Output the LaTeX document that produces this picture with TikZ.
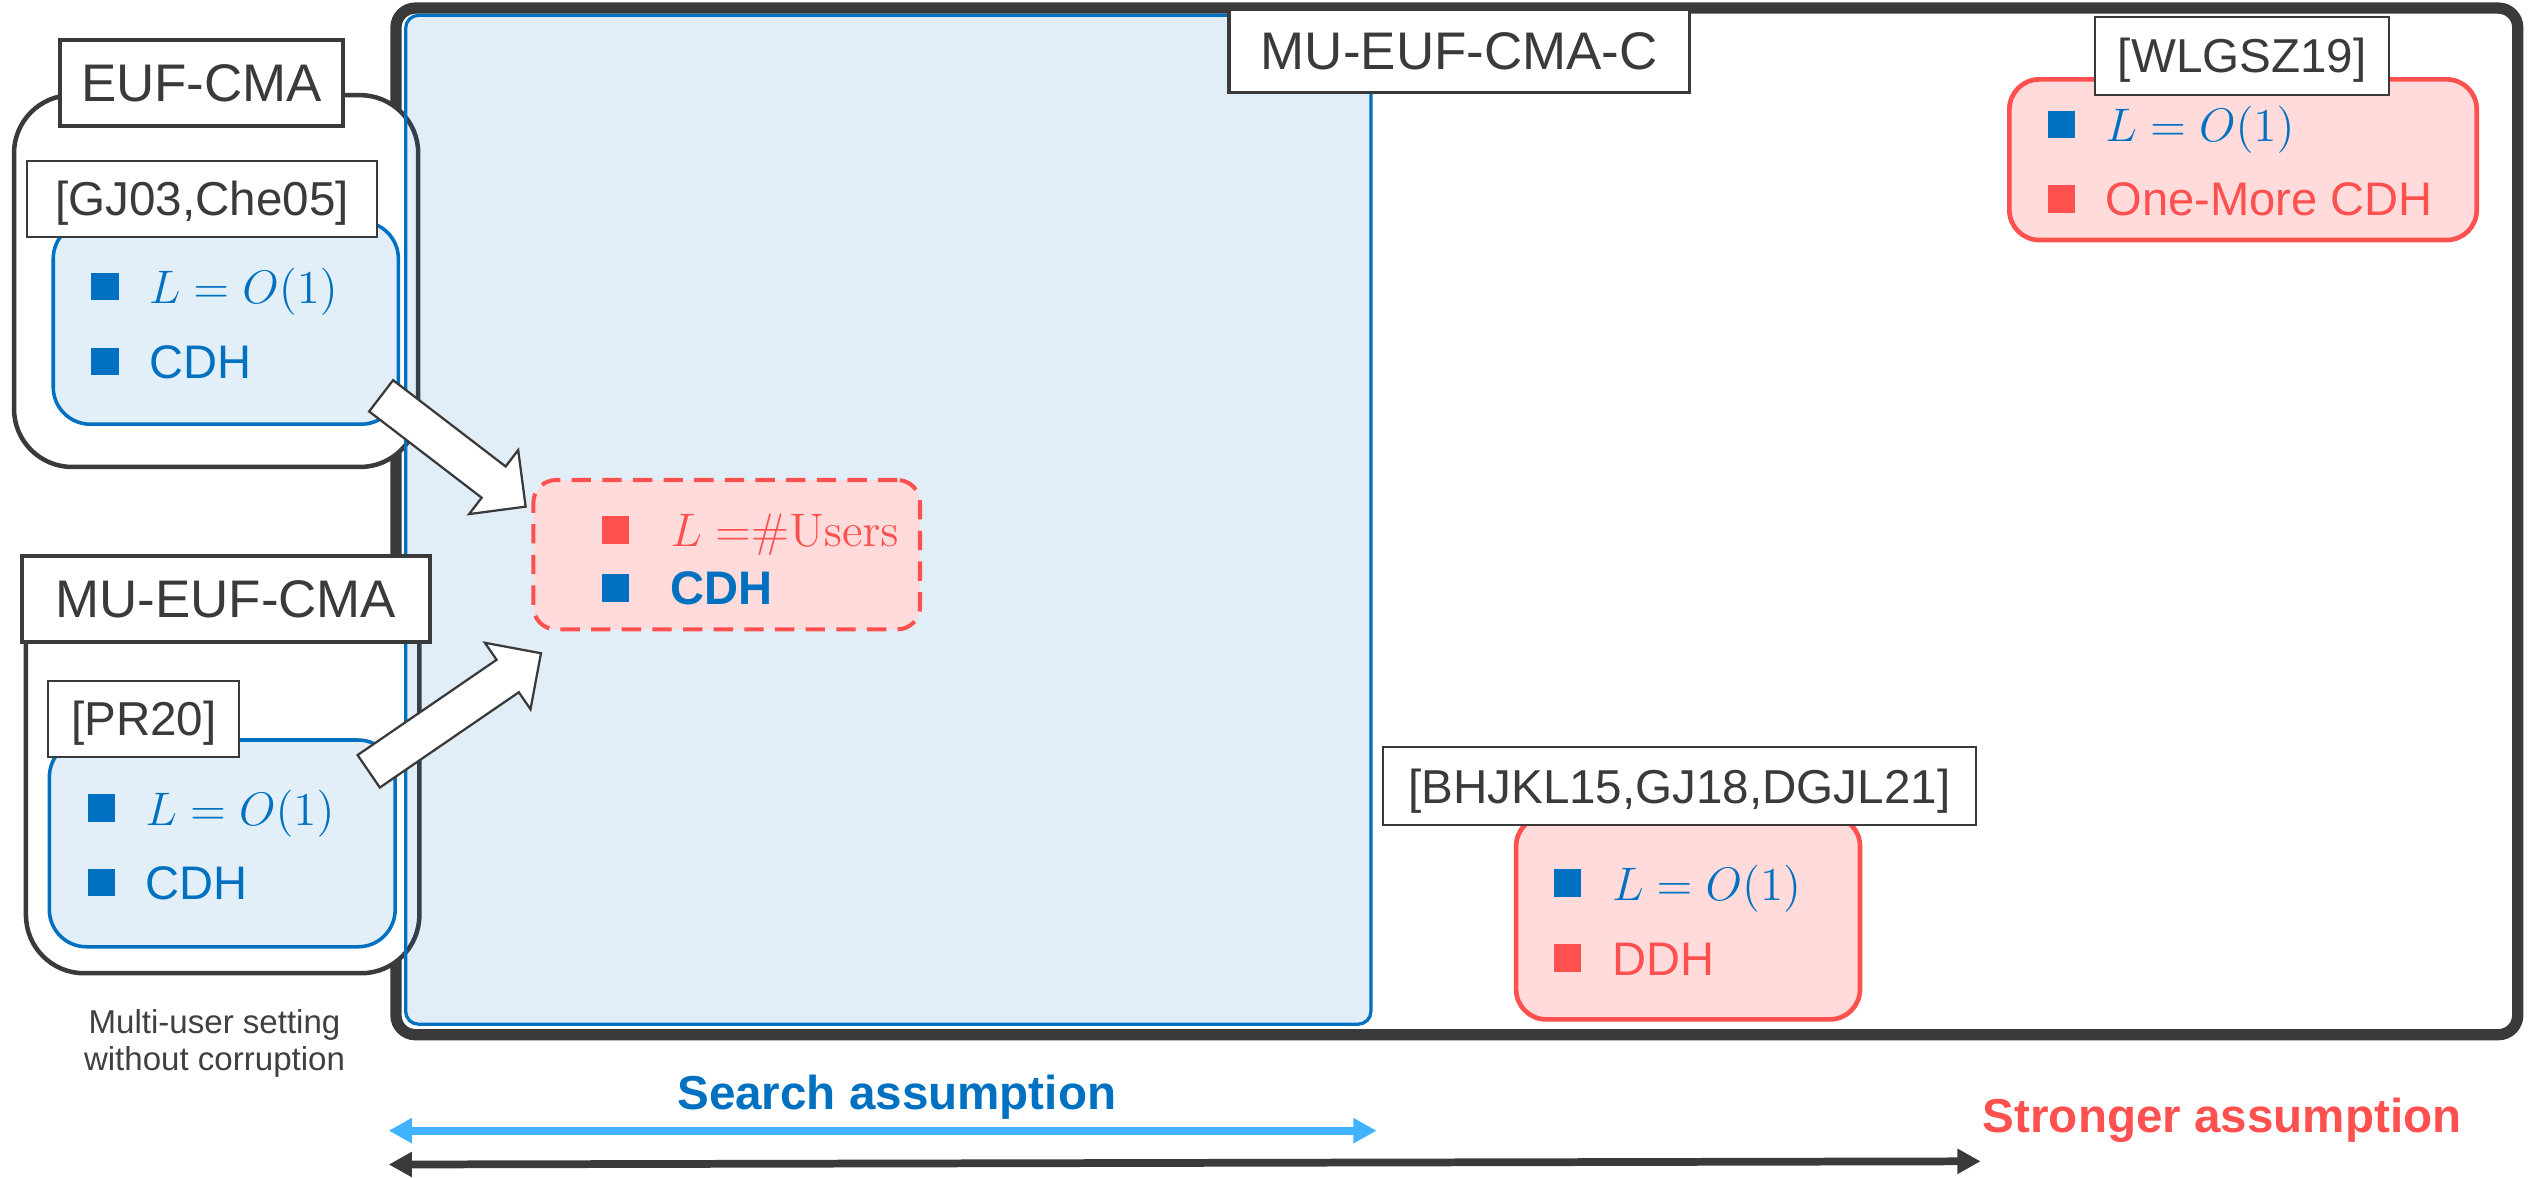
\RequirePackage{fix-cm}
\documentclass[tikz,border=0pt]{standalone}
\usepackage[no-math]{fontspec}
\setmainfont{Liberation Sans}
\usetikzlibrary{calc,fit,arrows.meta}

\definecolor{dk}{HTML}{3A3A3A}
\definecolor{capgray}{HTML}{404040}
\definecolor{bl}{HTML}{0070C0}
\definecolor{lb}{HTML}{E2EFF8}
\definecolor{pk}{HTML}{FFDBDB}
\definecolor{rd}{HTML}{FF5050}
\definecolor{sky}{HTML}{40B2FF}

% square bullet followed by a gap
\newcommand{\bsq}[1]{\raisebox{1pt}{\rule{8.5pt}{8.5pt}}\hspace{#1}}

% wide white block arrow from #1 (tail centre) to #2 (tip)
\newcommand{\blockarrow}[2]{%
  \coordinate (ba-base) at ($(#2)!12.5pt!(#1)$);
  \filldraw[blockstyle]
    ($(#1)!6.1pt!90:(#2)$) -- ($(ba-base)!6.1pt!-90:(#1)$)
    -- ($(ba-base)!12.5pt!-90:(#1)$) -- (#2)
    -- ($(ba-base)!12.5pt!90:(#1)$) -- ($(ba-base)!6.1pt!90:(#1)$)
    -- ($(#1)!6.1pt!-90:(#2)$) -- cycle;}

\tikzset{
  outerbox/.style={draw=dk, line width=3.5pt, fill=white, rounded corners=6pt, inner sep=0pt},
  grp/.style={draw=dk, line width=1.4pt, fill=white, rounded corners=18pt, inner sep=0pt},
  bluebox/.style={draw=bl, line width=1.1pt, fill=lb, rounded corners=11.5pt, inner sep=0pt},
  searchzone/.style={draw=bl, line width=1pt, fill=bl, fill opacity=0.115, draw opacity=1, rounded corners=4pt, inner sep=0pt},
  pinkbox/.style={draw=rd, line width=1.45pt, fill=pk, rounded corners=9.3pt, inner sep=0pt},
  pinkdash/.style={draw=rd, line width=1.25pt, fill=pk, rounded corners=7pt, inner sep=0pt, dash pattern=on 6pt off 3.5pt},
  bigtag/.style={draw=dk, line width=1.25pt, fill=white, inner sep=0pt, text=dk, anchor=center,
    font=\fontsize{16.4pt}{19pt}\selectfont, text height=11.74pt, text depth=0pt},
  reftag/.style={draw=dk, line width=0.6pt, fill=white, inner sep=0pt, text=dk, anchor=center,
    font=\fontsize{14.75pt}{17pt}\selectfont, text height=10.56pt, text depth=0pt},
  item/.style={inner sep=0pt, anchor=base west, font=\fontsize{14.6pt}{17pt}\selectfont},
  blockstyle/.style={draw=dk, fill=white, line width=0.7pt, line join=miter},
  scale arrow/.style={line width=2.4pt, {Triangle[length=7.2pt,width=7.4pt]}-{Triangle[length=7.2pt,width=7.4pt]}},
  axislabel/.style={inner sep=0pt, font=\fontsize{14.75pt}{17pt}\selectfont\bfseries}
}

\begin{document}
\begin{tikzpicture}[x=0.5pt,y=-0.5pt]
\useasboundingbox (0,0) rectangle (1568,730);

% corruption-setting frame
\node[outerbox, fit={(245.5,5) (1561,641.5)}] (mucframe) {};

% settings without corruption
\node[grp, fit={(8.7,59) (259.3,289.5)}] (eufgrp) {};
\node[grp, fit={(16.1,360) (260,603.4)}] (mugrp) {};
\node[bluebox, fit={(33,137.4) (247,263)}] (eufres) {};
\node[bluebox, fit={(30.6,458.8) (245,587)}] (mures) {};

% region of search assumptions
\node[searchzone, fit={(251.5,9.5) (850,635)}] (searchzone) {};

% results
\node[pinkdash, fit={(330.7,297.6) (570.4,390.2)}] (users) {};
\node[pinkbox, fit={(1245.8,49.2) (1535.6,148.8)}] (omcdh) {};
\node[pinkbox, fit={(940,506) (1153.2,632)}] (ddhres) {};

% notion names
\node[bigtag, minimum width=87.75pt, minimum height=26.65pt] (eufname) at (124.95,51.45) {EUF-CMA};
\node[bigtag, minimum width=126.6pt, minimum height=26.55pt] (muname) at (140,371.25) {MU-EUF-CMA};
\node[bigtag, line width=1pt, minimum width=142.75pt, minimum height=25.85pt] (mucname) at (904.75,31.65) {MU-EUF-CMA-C};

% references
\node[reftag, minimum width=108.75pt, minimum height=23.75pt] (gj03) at (125.25,123.35) {[GJ03,Che05]};
\node[reftag, minimum width=59.2pt, minimum height=23.75pt] (pr20) at (89.2,445.75) {[PR20]};
\node[reftag, minimum width=91.15pt, minimum height=24.3pt] (wlgsz) at (1390.15,34.6) {[WLGSZ19]};
\node[reftag, minimum width=183.85pt, minimum height=24.2pt] (bhjkl) at (1041.15,487.5) {[BHJKL15,GJ18,DGJL21]};

% bullet items
\node[item, text=bl] (euf1) at (56.2,188) {\bsq{9.4pt}$L=O(1)$};
\node[item, text=bl] (euf2) at (56.2,234.6) {\bsq{9.4pt}CDH};
\node[item, text=bl] (mu1) at (54.1,511.5) {\bsq{9.4pt}$L=O(1)$};
\node[item, text=bl] (mu2) at (54.1,557.6) {\bsq{9.4pt}CDH};
\node[item, text=rd] (us1) at (372.6,339) {\bsq{12.9pt}$L\ {=}\#\mathrm{Users}$};
\node[item, text=bl] (us2) at (372.6,375) {\bsq{12.9pt}\textbf{CDH}};
\node[item, text=bl] (om1) at (1269.3,87.8) {\bsq{9.4pt}$L=O(1)$};
\node[item, text=rd] (om2) at (1269.3,133.9) {\bsq{9.4pt}One-More CDH};
\node[item, text=bl] (dd1) at (963,558) {\bsq{9.6pt}$L=O(1)$};
\node[item, text=rd] (dd2) at (963,604.5) {\bsq{9.6pt}DDH};

% caption
\node[align=center, inner sep=0pt, text=capgray, font=\fontsize{10.25pt}{11.5pt}\selectfont]
  (caption) at (133,647) {Multi-user setting\\without corruption};

% block arrows towards the multi-user result
\coordinate (t1) at (236.3,245.4);
\coordinate (h1) at (325.9,314.1);
\coordinate (t2) at (228.6,478.2);
\coordinate (h2) at (335.4,405);
\blockarrow{t1}{h1}
\blockarrow{t2}{h2}

% assumption scale
\coordinate (sl) at (241,701);
\coordinate (sr) at (853.5,701);
\coordinate (al) at (241,722);
\coordinate (ar) at (1228,720);
\draw[scale arrow, sky] (sl) -- (sr);
\draw[scale arrow, dk] (al) -- (ar);
\node[axislabel, text=bl, anchor=base] (searchlbl) at (556,688) {Search assumption};
\node[axislabel, text=rd, anchor=base west] (stronglbl) at (1229,702) {Stronger assumption};
\end{tikzpicture}
\end{document}
